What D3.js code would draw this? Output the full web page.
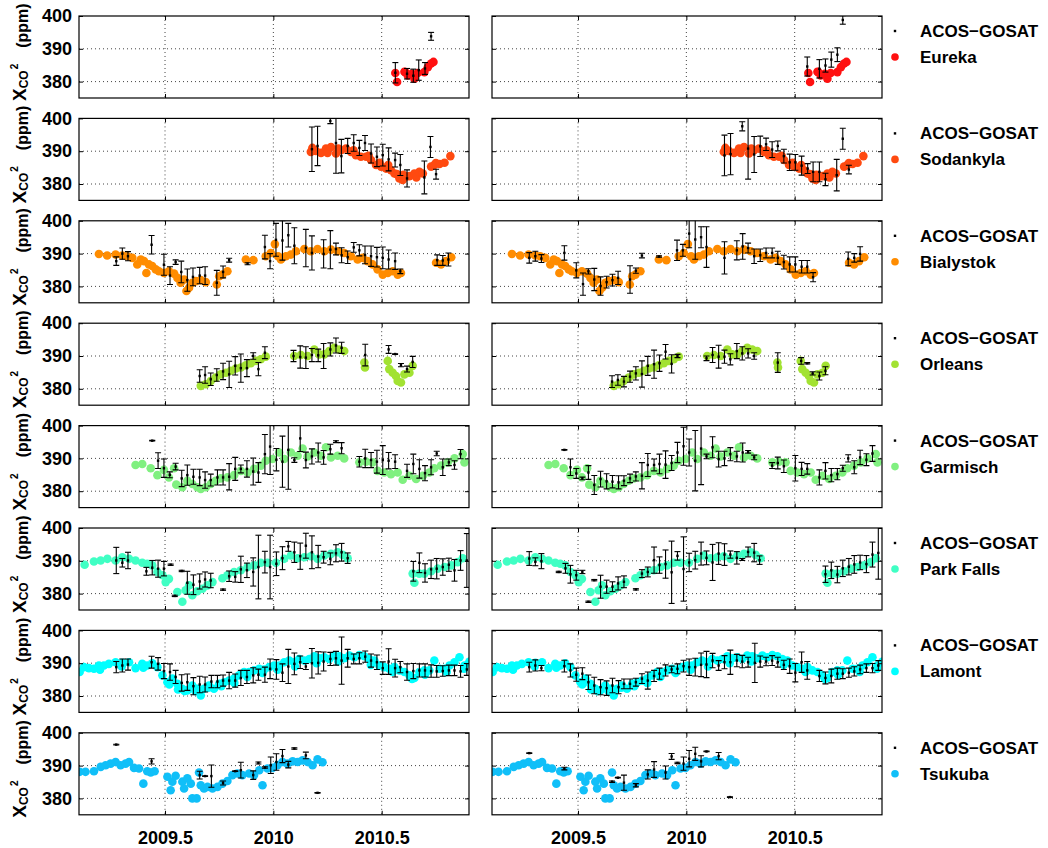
<!DOCTYPE html>
<html><head><meta charset="utf-8">
<script src="https://cdn.jsdelivr.net/npm/d3@7"></script>
<style>
body{margin:0;background:#fff}
text{font-family:"Liberation Sans",Arial,Helvetica,sans-serif;font-weight:bold}
</style>
</head><body>
<svg id="c" width="1048" height="848"></svg>
<script>
// ---------- data ----------
const stations = ["Eureka","Sodankyla","Bialystok","Orleans","Garmisch","Park Falls","Lamont","Tsukuba"];
const stationColors = ["#ff1010","#ff4a10","#ff8c00","#a2e232","#80f080","#40ffc4","#00ffff","#10bff8"];
const gosatLabel = "ACOS\u2212GOSAT";
const xTickValues = [2009.5, 2010, 2010.5];
const xTickLabels = ["2009.5","2010","2010.5"];
const yTickValues = [380, 390, 400];
const yGridValues = [380, 390];

// TCCON [decimal year, XCO2]
const tcconEureka = [[2010.563,382.6],[2010.571,379.9],[2010.605,383.0],[2010.609,382.9],[2010.620,381.9],[2010.639,382.4],[2010.651,380.9],[2010.666,382.6],[2010.697,382.9],[2010.713,384.4],[2010.728,385.5],[2010.739,386.0]];
const tcconSodankyla = [[2010.173,389.8],[2010.180,391.0],[2010.196,390.1],[2010.220,389.5],[2010.243,390.8],[2010.250,389.5],[2010.266,391.3],[2010.289,389.3],[2010.300,390.8],[2010.312,390.3],[2010.335,390.8],[2010.358,389.8],[2010.370,390.3],[2010.381,388.8],[2010.404,388.3],[2010.428,388.3],[2010.440,388.6],[2010.451,387.3],[2010.474,385.8],[2010.490,386.5],[2010.497,385.3],[2010.520,384.7],[2010.530,385.8],[2010.543,384.2],[2010.559,383.2],[2010.570,383.0],[2010.582,381.7],[2010.597,381.2],[2010.600,382.8],[2010.612,382.2],[2010.628,382.4],[2010.651,383.2],[2010.660,382.0],[2010.674,383.7],[2010.690,383.2],[2010.728,385.3],[2010.743,385.8],[2010.750,386.4],[2010.767,386.1],[2010.790,386.5],[2010.817,388.5]];
const tcconBialystok = [[2009.195,389.9],[2009.233,389.4],[2009.272,389.7],[2009.303,389.4],[2009.326,389.2],[2009.349,388.7],[2009.372,386.7],[2009.388,388.2],[2009.403,387.7],[2009.414,384.1],[2009.426,386.7],[2009.441,386.2],[2009.457,385.2],[2009.472,384.6],[2009.495,384.1],[2009.518,384.6],[2009.542,383.9],[2009.557,382.6],[2009.572,381.1],[2009.588,382.1],[2009.599,378.6],[2009.611,379.6],[2009.626,381.1],[2009.642,381.6],[2009.665,381.9],[2009.688,381.3],[2009.739,380.6],[2009.750,383.1],[2009.765,383.6],[2009.788,384.6],[2009.873,388.2],[2009.908,388.0],[2009.965,389.2],[2009.988,390.2],[2010.007,392.9],[2010.022,389.2],[2010.035,388.2],[2010.058,389.2],[2010.081,389.7],[2010.104,390.7],[2010.143,391.4],[2010.173,390.7],[2010.204,391.4],[2010.235,390.7],[2010.266,391.2],[2010.297,390.7],[2010.327,390.2],[2010.358,389.2],[2010.389,388.2],[2010.412,388.7],[2010.435,387.7],[2010.458,386.7],[2010.481,385.2],[2010.505,383.6],[2010.528,384.1],[2010.551,384.6],[2010.574,383.6],[2010.589,384.1],[2010.751,387.2],[2010.774,386.7],[2010.797,387.7],[2010.821,388.9]];
const tcconOrleans = [[2009.665,380.9],[2009.688,381.4],[2009.711,382.4],[2009.734,383.4],[2009.757,384.4],[2009.781,384.9],[2009.804,385.5],[2009.827,386.2],[2009.850,386.5],[2009.873,387.2],[2009.896,387.8],[2009.919,388.5],[2009.942,389.0],[2009.965,389.8],[2010.096,390.0],[2010.127,390.3],[2010.158,390.0],[2010.189,392.0],[2010.212,390.5],[2010.235,390.5],[2010.258,391.5],[2010.281,392.5],[2010.304,392.0],[2010.327,391.5],[2010.420,388.0],[2010.423,386.5],[2010.528,388.5],[2010.535,386.0],[2010.551,384.9],[2010.566,383.9],[2010.574,382.4],[2010.589,381.9],[2010.605,384.4],[2010.628,384.9],[2010.643,387.0]];
const tcconGarmisch = [[2009.364,388.0],[2009.395,388.3],[2009.434,387.0],[2009.465,384.9],[2009.495,386.5],[2009.518,384.2],[2009.542,387.0],[2009.552,382.0],[2009.580,381.2],[2009.603,383.2],[2009.626,382.2],[2009.649,381.2],[2009.665,380.7],[2009.688,381.2],[2009.711,382.2],[2009.734,383.2],[2009.757,383.9],[2009.788,384.2],[2009.819,384.9],[2009.850,386.2],[2009.881,385.7],[2009.911,386.8],[2009.942,387.8],[2009.965,389.3],[2009.996,389.8],[2010.027,391.8],[2010.050,389.8],[2010.081,391.8],[2010.112,390.8],[2010.135,393.0],[2010.158,390.6],[2010.189,391.8],[2010.220,390.8],[2010.243,393.4],[2010.266,390.3],[2010.297,390.8],[2010.327,390.0],[2010.397,388.8],[2010.428,389.0],[2010.458,388.8],[2010.481,386.2],[2010.512,385.7],[2010.543,385.2],[2010.574,385.7],[2010.597,383.5],[2010.628,384.7],[2010.659,383.7],[2010.690,384.7],[2010.720,385.7],[2010.743,387.0],[2010.774,387.8],[2010.805,388.8],[2010.836,390.0],[2010.874,391.3],[2010.882,388.8]];
const tcconParkFalls = [[2009.129,388.8],[2009.172,389.8],[2009.203,390.1],[2009.234,390.6],[2009.272,390.1],[2009.303,391.1],[2009.334,390.6],[2009.364,390.1],[2009.395,389.4],[2009.418,389.1],[2009.441,388.6],[2009.465,386.6],[2009.488,385.6],[2009.503,383.5],[2009.518,384.5],[2009.557,380.5],[2009.580,377.5],[2009.595,381.0],[2009.611,382.5],[2009.626,379.5],[2009.649,380.7],[2009.673,381.5],[2009.696,382.5],[2009.719,383.5],[2009.765,384.7],[2009.788,385.6],[2009.819,386.6],[2009.850,387.1],[2009.881,388.1],[2009.911,388.6],[2009.942,389.4],[2009.973,389.4],[2010.012,389.4],[2010.050,390.6],[2010.081,391.6],[2010.112,390.8],[2010.143,391.1],[2010.173,391.4],[2010.204,390.6],[2010.235,391.6],[2010.266,392.1],[2010.297,392.6],[2010.320,391.8],[2010.343,390.8],[2010.643,386.1],[2010.651,383.3],[2010.674,386.1],[2010.697,386.1],[2010.728,386.8],[2010.758,387.6],[2010.790,388.1],[2010.821,388.6],[2010.851,389.6],[2010.874,390.8]];
const tcconLamont = [[2009.106,387.3],[2009.126,388.8],[2009.149,388.5],[2009.172,388.3],[2009.195,389.3],[2009.200,388.0],[2009.218,389.3],[2009.241,389.8],[2009.272,390.3],[2009.300,389.0],[2009.303,390.1],[2009.334,390.3],[2009.364,388.5],[2009.395,389.8],[2009.400,388.6],[2009.418,389.3],[2009.441,390.0],[2009.465,388.8],[2009.488,386.3],[2009.511,384.2],[2009.520,383.5],[2009.534,385.3],[2009.557,383.7],[2009.560,382.0],[2009.580,382.2],[2009.590,381.5],[2009.603,381.7],[2009.626,383.2],[2009.640,381.5],[2009.649,382.2],[2009.665,380.2],[2009.680,382.2],[2009.700,382.5],[2009.703,383.2],[2009.726,382.2],[2009.750,383.7],[2009.760,383.0],[2009.773,384.2],[2009.796,384.7],[2009.819,385.3],[2009.820,384.0],[2009.842,386.3],[2009.865,387.3],[2009.880,385.8],[2009.888,387.3],[2009.911,387.8],[2009.935,388.3],[2009.950,387.0],[2009.958,388.1],[2009.981,388.8],[2010.004,389.3],[2010.020,388.0],[2010.027,389.3],[2010.050,390.3],[2010.073,390.8],[2010.096,390.3],[2010.100,389.0],[2010.119,391.3],[2010.143,390.8],[2010.166,391.3],[2010.189,392.1],[2010.200,390.0],[2010.212,391.5],[2010.235,391.8],[2010.258,391.3],[2010.281,392.3],[2010.300,390.5],[2010.304,392.1],[2010.327,391.5],[2010.351,392.3],[2010.374,391.8],[2010.397,392.5],[2010.420,392.1],[2010.443,391.3],[2010.450,389.5],[2010.466,390.8],[2010.489,389.3],[2010.512,388.8],[2010.535,388.3],[2010.550,387.3],[2010.559,388.8],[2010.582,387.8],[2010.605,387.3],[2010.628,386.3],[2010.640,385.2],[2010.651,385.5],[2010.674,387.3],[2010.697,387.8],[2010.700,386.5],[2010.720,387.8],[2010.743,390.8],[2010.767,388.3],[2010.790,388.3],[2010.800,387.3],[2010.813,389.3],[2010.836,390.3],[2010.859,391.8],[2010.880,388.3],[2010.882,389.3],[2010.905,390.5]];
const tcconTsukuba = [[2009.106,388.1],[2009.133,388.1],[2009.172,388.3],[2009.203,389.6],[2009.226,390.1],[2009.249,390.6],[2009.272,391.1],[2009.295,390.1],[2009.318,390.6],[2009.334,391.1],[2009.357,389.3],[2009.380,389.1],[2009.400,384.5],[2009.418,388.3],[2009.434,387.9],[2009.452,388.3],[2009.511,386.6],[2009.526,382.5],[2009.534,385.1],[2009.549,386.9],[2009.580,385.1],[2009.588,383.0],[2009.603,386.1],[2009.619,384.5],[2009.626,380.0],[2009.646,380.0],[2009.657,387.9],[2009.665,384.0],[2009.680,383.0],[2009.696,383.5],[2009.719,383.0],[2009.742,383.5],[2009.765,384.5],[2009.788,385.3],[2009.811,387.1],[2009.834,387.6],[2009.857,387.1],[2009.888,387.6],[2009.911,387.1],[2009.935,388.6],[2009.950,384.0],[2009.973,389.1],[2009.996,389.3],[2010.019,390.1],[2010.042,391.1],[2010.065,390.6],[2010.089,391.3],[2010.112,391.1],[2010.135,391.6],[2010.158,391.1],[2010.181,390.1],[2010.204,391.9],[2010.227,391.0]];

// ACOS-GOSAT [decimal year, XCO2, error] — left column
const gosatEurekaL = [[2010.563,382.7,3.1],[2010.617,382.4,1.6],[2010.646,381.8,2.0],[2010.671,383.5,3.1],[2010.700,384.0,1.8],[2010.728,393.8,1.2]];
const gosatSodankylaL = [[2010.178,390.6,6.8],[2010.204,391.6,6.0],[2010.263,399.2,0.8],[2010.289,392.5,9.2],[2010.314,388.5,5.1],[2010.343,391.6,2.3],[2010.371,392.5,2.5],[2010.397,391.0,2.3],[2010.423,392.5,2.3],[2010.451,389.3,2.9],[2010.478,388.3,3.0],[2010.505,388.8,3.3],[2010.532,387.5,3.5],[2010.562,387.3,2.1],[2010.586,385.8,3.2],[2010.617,381.7,2.6],[2010.697,382.0,5.0],[2010.725,391.3,3.2],[2010.751,383.0,1.5]];
const gosatBialystokL = [[2009.275,387.7,1.3],[2009.303,390.0,1.7],[2009.329,389.2,1.4],[2009.438,392.7,2.8],[2009.495,386.6,3.2],[2009.523,383.3,2.7],[2009.549,387.4,0.7],[2009.575,384.4,3.3],[2009.603,381.9,3.4],[2009.629,382.9,2.7],[2009.660,383.3,2.5],[2009.685,383.3,2.7],[2009.739,381.1,3.8],[2009.768,384.4,1.8],[2009.796,388.0,0.6],[2009.881,386.9,0.3],[2009.961,392.0,3.6],[2009.985,387.7,2.3],[2010.012,394.2,5.0],[2010.042,394.0,6.0],[2010.069,395.6,3.6],[2010.097,392.4,5.5],[2010.150,391.7,5.7],[2010.178,390.2,5.2],[2010.232,389.9,4.3],[2010.263,391.2,5.8],[2010.289,391.4,1.8],[2010.315,389.5,2.3],[2010.343,388.9,1.9],[2010.371,391.9,1.5],[2010.397,391.0,1.7],[2010.423,389.6,2.7],[2010.451,389.2,3.1],[2010.478,388.9,3.0],[2010.505,388.7,3.3],[2010.532,388.2,2.9],[2010.562,387.7,2.5],[2010.586,384.6,0.7],[2010.756,388.0,1.6],[2010.782,387.9,1.5],[2010.808,388.2,2.0]];
const gosatOrleansL = [[2009.660,383.9,1.9],[2009.685,384.2,2.5],[2009.711,382.9,1.9],[2009.739,384.2,1.9],[2009.768,385.3,2.5],[2009.796,384.4,4.0],[2009.824,387.0,2.8],[2009.850,386.3,4.3],[2009.878,386.3,2.6],[2009.907,390.0,1.0],[2009.931,386.0,2.0],[2009.961,391.0,1.8],[2010.093,390.0,1.7],[2010.124,389.7,3.4],[2010.150,389.5,3.3],[2010.178,390.3,2.0],[2010.207,390.2,1.9],[2010.232,390.0,3.8],[2010.263,392.0,2.0],[2010.289,393.2,2.3],[2010.315,392.5,1.7],[2010.424,390.3,3.3],[2010.532,392.0,1.2],[2010.562,390.6,0.1],[2010.589,387.2,0.5],[2010.617,386.0,0.9],[2010.643,388.2,1.7]];
const gosatGarmischL = [[2009.441,395.4,0.1],[2009.468,389.3,2.4],[2009.495,387.0,2.8],[2009.522,385.0,0.9],[2009.549,387.5,1.0],[2009.577,383.9,2.5],[2009.603,384.9,3.1],[2009.631,384.4,2.3],[2009.660,384.2,2.5],[2009.685,383.4,2.5],[2009.711,383.4,1.8],[2009.742,384.2,2.3],[2009.768,384.2,2.3],[2009.796,384.4,4.0],[2009.824,386.8,3.5],[2009.850,386.8,1.2],[2009.878,386.8,2.5],[2009.907,386.0,4.1],[2009.931,385.7,3.0],[2009.961,391.3,6.0],[2009.985,393.6,8.5],[2010.014,389.6,3.4],[2010.042,389.0,7.8],[2010.069,392.6,12.0],[2010.097,389.5,0.7],[2010.124,396.1,4.0],[2010.150,389.5,2.4],[2010.178,390.6,2.3],[2010.207,391.8,2.9],[2010.232,390.3,2.1],[2010.263,392.8,1.5],[2010.289,395.1,0.3],[2010.315,393.1,1.7],[2010.397,389.0,1.6],[2010.424,390.0,2.8],[2010.451,389.5,2.3],[2010.478,389.0,3.5],[2010.505,389.5,4.4],[2010.532,389.3,2.5],[2010.562,389.0,2.1],[2010.617,386.2,2.0],[2010.646,388.3,3.0],[2010.674,386.8,2.8],[2010.700,385.5,2.3],[2010.728,387.3,2.3],[2010.754,391.5,0.7],[2010.782,387.3,2.5],[2010.810,388.8,1.0],[2010.836,388.0,1.3],[2010.864,391.3,1.4]];
const gosatParkFallsL = [[2009.275,390.1,4.0],[2009.303,389.4,1.3],[2009.329,390.1,2.5],[2009.414,386.8,1.2],[2009.441,387.9,2.2],[2009.468,387.6,2.6],[2009.495,387.6,2.2],[2009.526,388.8,0.2],[2009.545,379.3,0.2],[2009.577,386.9,0.2],[2009.603,383.3,3.5],[2009.631,382.7,3.0],[2009.660,383.7,2.3],[2009.685,384.3,2.3],[2009.711,384.0,2.2],[2009.768,381.2,0.2],[2009.796,385.3,1.6],[2009.824,385.1,1.6],[2009.850,387.4,4.0],[2009.878,387.1,2.2],[2009.907,386.6,4.3],[2009.931,388.1,9.7],[2009.961,389.6,3.3],[2009.985,388.1,9.7],[2010.014,389.1,3.6],[2010.042,390.8,3.5],[2010.069,394.4,1.5],[2010.097,392.6,3.1],[2010.124,391.4,4.0],[2010.150,394.6,3.8],[2010.178,392.6,5.0],[2010.207,391.3,3.4],[2010.232,391.1,1.8],[2010.263,390.6,1.8],[2010.289,392.3,2.6],[2010.315,392.6,2.7],[2010.343,390.8,1.6],[2010.646,386.8,3.0],[2010.674,389.4,3.0],[2010.700,386.3,2.8],[2010.728,387.4,2.8],[2010.754,387.6,3.1],[2010.782,388.1,2.5],[2010.810,388.8,2.0],[2010.836,387.1,3.3],[2010.864,390.1,3.0],[2010.893,390.1,8.2]];
const gosatLamontL = [[2009.275,388.8,1.7],[2009.303,389.3,2.0],[2009.329,389.6,1.7],[2009.438,390.3,1.8],[2009.468,389.8,1.9],[2009.495,387.6,2.3],[2009.523,387.3,2.5],[2009.549,385.8,2.0],[2009.577,384.0,2.5],[2009.603,384.2,2.5],[2009.631,383.0,2.6],[2009.660,383.5,2.5],[2009.685,383.5,2.3],[2009.714,384.4,1.9],[2009.742,384.4,1.9],[2009.768,384.7,1.7],[2009.796,384.7,2.5],[2009.824,384.7,2.0],[2009.850,385.5,2.3],[2009.878,385.8,2.0],[2009.907,386.3,2.3],[2009.931,386.5,1.7],[2009.961,386.5,2.3],[2009.985,388.3,3.0],[2010.014,388.1,3.0],[2010.042,387.1,2.7],[2010.069,389.0,5.2],[2010.097,389.8,3.3],[2010.124,390.3,1.9],[2010.150,389.0,0.9],[2010.178,390.0,4.5],[2010.207,390.1,3.4],[2010.232,390.5,2.9],[2010.263,391.3,2.0],[2010.289,391.5,2.1],[2010.315,390.8,7.2],[2010.343,391.5,2.7],[2010.371,391.3,1.5],[2010.397,391.5,1.7],[2010.424,392.0,1.7],[2010.451,390.8,2.0],[2010.478,390.3,2.2],[2010.505,388.5,1.9],[2010.532,390.5,3.9],[2010.562,388.5,2.7],[2010.586,388.8,1.7],[2010.617,387.3,2.5],[2010.646,387.6,2.3],[2010.674,387.8,2.0],[2010.700,387.8,2.0],[2010.728,387.6,1.9],[2010.754,387.5,1.8],[2010.782,387.6,1.6],[2010.810,387.8,1.6],[2010.836,387.8,1.6],[2010.864,387.5,1.8],[2010.893,388.1,1.8]];
const gosatTsukubaL = [[2009.275,396.4,0.1],[2009.438,391.3,0.8],[2009.660,387.1,1.2],[2009.685,386.8,0.1],[2009.714,386.8,3.4],[2009.768,384.7,0.6],[2009.824,388.3,0.1],[2009.850,388.6,2.4],[2009.907,387.1,1.3],[2009.931,390.8,0.3],[2009.961,389.4,0.2],[2009.988,390.1,2.5],[2010.014,391.1,2.5],[2010.042,392.9,2.0],[2010.069,390.3,1.0],[2010.097,395.2,0.2],[2010.150,393.1,1.0],[2010.204,381.7,0.1]];

// ACOS-GOSAT — right column
const gosatEurekaR = [[2010.558,384.6,2.9],[2010.614,383.9,2.8],[2010.642,384.9,2.0],[2010.669,386.7,2.3],[2010.697,388.2,2.1],[2010.722,398.8,1.3]];
const gosatSodankylaR = [[2010.176,388.7,6.2],[2010.204,389.1,6.3],[2010.258,397.6,1.4],[2010.285,390.8,9.3],[2010.313,389.0,5.5],[2010.341,391.5,3.1],[2010.368,392.1,1.9],[2010.396,390.5,2.4],[2010.422,391.6,1.5],[2010.450,388.5,2.1],[2010.477,386.6,2.5],[2010.503,386.6,2.4],[2010.532,385.6,2.9],[2010.560,384.7,1.5],[2010.585,383.7,3.0],[2010.614,383.7,3.0],[2010.642,381.4,1.9],[2010.694,382.7,4.8],[2010.722,393.8,3.2],[2010.750,384.4,1.3]];
const gosatBialystokR = [[2009.275,388.7,1.6],[2009.303,389.2,1.5],[2009.331,388.5,1.2],[2009.437,390.2,2.2],[2009.492,384.9,2.3],[2009.523,380.7,3.4],[2009.548,384.6,0.8],[2009.575,382.1,3.4],[2009.604,380.1,2.8],[2009.632,381.3,1.8],[2009.659,381.9,1.8],[2009.685,382.6,2.0],[2009.740,382.1,4.2],[2009.767,384.8,0.8],[2009.795,389.4,0.7],[2009.874,389.1,0.2],[2009.957,391.0,3.1],[2009.984,391.0,1.8],[2010.013,396.1,4.3],[2010.041,394.3,6.0],[2010.068,395.0,3.2],[2010.093,392.0,6.2],[2010.176,388.7,4.9],[2010.233,391.0,2.9],[2010.260,392.2,3.9],[2010.285,391.7,1.5],[2010.313,389.2,2.2],[2010.341,389.5,1.9],[2010.368,390.2,1.5],[2010.396,390.2,1.5],[2010.422,388.7,2.0],[2010.450,387.4,2.1],[2010.477,386.7,2.3],[2010.503,386.7,2.3],[2010.532,386.0,1.9],[2010.558,386.0,1.9],[2010.585,382.8,1.4],[2010.747,388.4,2.1],[2010.775,388.7,1.3],[2010.802,389.9,2.2]];
const gosatOrleansR = [[2009.657,382.2,1.8],[2009.684,382.7,1.6],[2009.712,382.2,1.6],[2009.740,383.7,1.7],[2009.767,384.7,2.0],[2009.795,384.5,4.0],[2009.822,387.0,2.9],[2009.851,387.5,4.3],[2009.876,387.8,2.5],[2009.904,391.3,2.2],[2009.932,387.6,2.8],[2009.959,390.0,0.5],[2010.093,389.3,0.7],[2010.121,390.3,2.3],[2010.149,389.8,3.5],[2010.176,389.8,2.0],[2010.203,389.0,1.7],[2010.233,391.5,2.3],[2010.258,390.8,2.0],[2010.285,390.8,1.4],[2010.313,390.0,1.0],[2010.422,388.0,3.0],[2010.530,388.5,1.0],[2010.558,387.8,0.2],[2010.583,384.7,0.5],[2010.614,383.9,1.2],[2010.642,385.5,1.2]];
const gosatGarmischR = [[2009.437,392.6,0.1],[2009.465,387.3,2.5],[2009.492,385.4,1.5],[2009.520,383.9,0.4],[2009.548,385.7,2.1],[2009.575,381.9,2.9],[2009.604,383.7,2.4],[2009.632,383.0,2.3],[2009.659,382.9,1.9],[2009.687,382.7,2.0],[2009.712,383.2,1.5],[2009.740,383.9,1.3],[2009.767,384.5,1.4],[2009.795,384.7,4.0],[2009.822,388.0,3.5],[2009.851,388.0,1.8],[2009.876,388.3,3.0],[2009.904,388.1,4.2],[2009.932,388.6,2.3],[2009.959,391.8,3.1],[2009.987,393.7,5.8],[2010.013,391.8,4.1],[2010.041,389.3,9.2],[2010.068,393.0,11.0],[2010.093,390.6,0.7],[2010.121,393.4,3.2],[2010.149,389.8,2.4],[2010.176,390.0,2.2],[2010.203,391.3,2.0],[2010.233,390.6,1.6],[2010.260,391.8,2.9],[2010.285,392.0,0.4],[2010.313,390.3,0.7],[2010.396,387.8,0.9],[2010.422,388.6,1.8],[2010.450,387.6,1.9],[2010.503,387.0,3.9],[2010.532,386.8,2.0],[2010.558,386.8,1.6],[2010.614,384.2,2.3],[2010.642,386.2,2.5],[2010.669,384.9,2.0],[2010.697,385.2,1.7],[2010.722,387.0,0.9],[2010.747,390.0,1.1],[2010.775,387.3,2.0],[2010.802,390.3,2.2],[2010.831,389.6,1.8],[2010.859,391.5,2.4]];
const gosatParkFallsR = [[2009.275,390.7,2.1],[2009.303,389.7,1.2],[2009.331,389.9,2.3],[2009.411,386.6,0.2],[2009.442,387.7,1.5],[2009.465,385.9,2.7],[2009.492,385.6,1.5],[2009.520,386.6,0.5],[2009.548,377.5,0.2],[2009.575,384.1,0.2],[2009.604,382.1,3.5],[2009.632,382.1,2.0],[2009.659,382.1,1.5],[2009.685,383.1,2.0],[2009.712,383.6,1.8],[2009.767,381.3,0.2],[2009.795,386.1,1.2],[2009.822,386.6,1.5],[2009.851,390.2,4.0],[2009.876,388.7,2.5],[2009.904,389.0,4.3],[2009.932,386.5,9.5],[2009.959,391.5,1.3],[2009.987,387.5,9.8],[2010.013,389.5,2.8],[2010.041,390.2,2.7],[2010.068,392.2,3.5],[2010.093,390.9,2.1],[2010.121,389.5,5.5],[2010.149,392.2,3.3],[2010.176,391.9,3.3],[2010.203,391.9,1.1],[2010.233,390.9,1.9],[2010.258,390.4,0.3],[2010.285,392.7,1.5],[2010.313,392.5,2.8],[2010.338,390.2,1.3],[2010.642,385.9,2.5],[2010.669,387.1,2.5],[2010.697,385.8,2.5],[2010.722,387.7,2.5],[2010.750,388.2,2.5],[2010.775,388.9,2.7],[2010.802,389.5,2.2],[2010.831,389.0,2.6],[2010.859,391.9,3.8],[2010.886,392.4,8.0]];
const gosatLamontR = [[2009.275,388.8,1.5],[2009.303,389.3,1.7],[2009.331,388.5,0.8],[2009.437,389.1,1.8],[2009.465,387.8,2.0],[2009.492,386.5,2.0],[2009.520,386.8,1.8],[2009.548,384.2,2.2],[2009.575,383.2,2.5],[2009.604,382.7,2.3],[2009.632,382.4,2.2],[2009.659,383.2,2.2],[2009.687,382.7,2.0],[2009.712,383.7,1.5],[2009.740,383.7,1.5],[2009.767,384.2,1.2],[2009.795,385.3,1.5],[2009.822,384.7,2.6],[2009.851,386.1,1.7],[2009.876,386.8,1.7],[2009.904,387.8,1.7],[2009.932,388.1,1.0],[2009.959,388.3,1.5],[2009.987,389.1,1.8],[2010.013,388.8,2.5],[2010.041,388.8,2.7],[2010.068,389.5,3.6],[2010.093,389.6,4.0],[2010.121,390.8,2.2],[2010.149,389.3,1.5],[2010.176,390.3,2.0],[2010.203,390.3,3.7],[2010.233,390.8,1.9],[2010.258,390.5,1.9],[2010.285,390.3,1.5],[2010.316,390.1,6.0],[2010.341,390.5,1.7],[2010.368,390.5,1.3],[2010.396,390.8,1.5],[2010.422,390.3,1.5],[2010.450,389.5,1.4],[2010.477,389.1,2.2],[2010.503,387.1,2.8],[2010.532,390.3,3.1],[2010.558,387.8,2.7],[2010.614,386.1,1.7],[2010.642,385.5,1.8],[2010.669,386.1,2.1],[2010.697,386.8,1.7],[2010.722,386.8,1.5],[2010.750,387.1,1.4],[2010.775,387.5,1.4],[2010.802,388.1,1.3],[2010.831,388.5,1.3],[2010.859,388.5,1.4],[2010.886,389.3,1.5]];
const gosatTsukubaR = [[2009.275,393.8,0.1],[2009.437,389.1,0.4],[2009.657,385.1,0.2],[2009.684,386.3,0.1],[2009.712,384.8,2.3],[2009.767,384.0,0.5],[2009.822,387.3,1.4],[2009.851,388.8,2.4],[2009.904,387.9,2.0],[2009.932,392.8,0.9],[2009.959,390.8,0.2],[2009.987,390.6,2.0],[2010.013,392.1,2.5],[2010.041,393.6,2.0],[2010.068,391.3,1.7],[2010.093,394.3,0.1],[2010.149,392.9,1.1],[2010.201,380.4,0.1]];

// ---------- layout ----------
const tcconSets = [tcconEureka,tcconSodankyla,tcconBialystok,tcconOrleans,tcconGarmisch,tcconParkFalls,tcconLamont,tcconTsukuba];
const gosatSets = [
  [gosatEurekaL,gosatEurekaR],[gosatSodankylaL,gosatSodankylaR],[gosatBialystokL,gosatBialystokR],
  [gosatOrleansL,gosatOrleansR],[gosatGarmischL,gosatGarmischR],[gosatParkFallsL,gosatParkFallsR],
  [gosatLamontL,gosatLamontR],[gosatTsukubaL,gosatTsukubaR]];

const colX = [79, 492], panelW = 390, panelH = 82, top0 = 16, rowStep = 102.4;
const x = d3.scaleLinear().domain([2009.103, 2010.903]).range([0, panelW]);
const y = d3.scaleLinear().domain([375, 400]).range([panelH, 0]);
const svg = d3.select("#c");
const FS = 18;

stations.forEach((name, i) => {
  const top = top0 + i * rowStep;
  [0, 1].forEach(c => {
    const g = svg.append("g").attr("transform", `translate(${colX[c]},${top})`);
    const id = `clip${i}_${c}`;
    g.append("clipPath").attr("id", id).append("rect").attr("width", panelW).attr("height", panelH);

    // grid
    g.append("g").selectAll("line").data(xTickValues).join("line")
      .attr("x1", d => x(d)).attr("x2", d => x(d)).attr("y1", 0).attr("y2", panelH)
      .attr("stroke", "#444").attr("stroke-width", 1).attr("stroke-dasharray", "1,3");
    g.append("g").selectAll("line").data(yGridValues).join("line")
      .attr("x1", 0).attr("x2", panelW).attr("y1", d => y(d)).attr("y2", d => y(d))
      .attr("stroke", "#444").attr("stroke-width", 1).attr("stroke-dasharray", "1,3");

    const dg = g.append("g").attr("clip-path", `url(#${id})`);
    dg.append("g").selectAll("circle").data(tcconSets[i]).join("circle")
      .attr("cx", d => x(d[0])).attr("cy", d => y(d[1])).attr("r", 4.3)
      .attr("fill", stationColors[i]);

    const eb = dg.append("g").selectAll("g").data(gosatSets[i][c]).join("g")
      .attr("stroke", "#000").attr("stroke-width", 1.1);
    eb.append("line").attr("x1", d => x(d[0])).attr("x2", d => x(d[0]))
      .attr("y1", d => y(d[1] - d[2])).attr("y2", d => y(d[1] + d[2]));
    eb.append("line").attr("x1", d => x(d[0]) - 3).attr("x2", d => x(d[0]) + 3)
      .attr("y1", d => y(d[1] - d[2])).attr("y2", d => y(d[1] - d[2]));
    eb.append("line").attr("x1", d => x(d[0]) - 3).attr("x2", d => x(d[0]) + 3)
      .attr("y1", d => y(d[1] + d[2])).attr("y2", d => y(d[1] + d[2]));
    eb.append("rect").attr("x", d => x(d[0]) - 1.2).attr("y", d => y(d[1]) - 1.2)
      .attr("width", 2.4).attr("height", 2.4).attr("fill", "#000").attr("stroke", "none");

    // frame
    g.append("rect").attr("width", panelW).attr("height", panelH)
      .attr("fill", "none").attr("stroke", "#000").attr("stroke-width", 1.2);

    // axes (inward ticks)
    const styleAxis = sel => { sel.select(".domain").remove();
      sel.selectAll(".tick line").attr("stroke", "#000");
      sel.selectAll("text").attr("font-size", FS).attr("font-weight", "bold").attr("fill", "#000")
        .attr("font-family", '"Liberation Sans",Arial,sans-serif'); };
    const isBottom = i === stations.length - 1;
    g.append("g").attr("transform", `translate(0,${panelH})`)
      .call(d3.axisBottom(x).tickValues(xTickValues).tickSizeInner(-4).tickSizeOuter(0).tickPadding(16)
        .tickFormat((d, k) => isBottom ? xTickLabels[k] : ""))
      .call(styleAxis);
    g.append("g")
      .call(d3.axisTop(x).tickValues(xTickValues).tickSizeInner(-4).tickSizeOuter(0).tickFormat(""))
      .call(styleAxis);
    g.append("g")
      .call(d3.axisLeft(y).tickValues(yTickValues).tickSizeInner(-4).tickSizeOuter(0).tickPadding(7)
        .tickFormat(d => c === 0 ? d3.format("d")(d) : ""))
      .call(styleAxis);
    g.append("g").attr("transform", `translate(${panelW},0)`)
      .call(d3.axisRight(y).tickValues(yTickValues).tickSizeInner(-4).tickSizeOuter(0).tickFormat(""))
      .call(styleAxis);

    if (c === 0) {
      // y label X_CO2 (ppm)
      const t = svg.append("text")
        .attr("transform", `translate(26,${top + panelH + 3}) rotate(-90)`)
        .attr("fill", "#000");
      t.append("tspan").attr("font-size", 19).text("X");
      t.append("tspan").attr("font-size", 12).attr("dy", 2).text("CO");
      t.append("tspan").attr("font-size", 10).attr("dy", -10).attr("dx", 1).text("2");
      t.append("tspan").attr("font-size", 16).attr("dy", 10).attr("dx", 16).text("(ppm)");
    } else {
      // legend
      const lg = svg.append("g");
      lg.append("rect").attr("x", 895 - 1.2).attr("y", top + 15 - 1.2).attr("width", 2.4).attr("height", 2.4).attr("fill", "#000");
      lg.append("text").attr("x", 920).attr("y", top + 15).attr("dy", "0.35em")
        .attr("font-size", 17).attr("fill", "#000").text(gosatLabel);
      lg.append("circle").attr("cx", 895).attr("cy", top + 41).attr("r", 3.8).attr("fill", stationColors[i]);
      lg.append("text").attr("x", 920).attr("y", top + 41).attr("dy", "0.35em")
        .attr("font-size", 17).attr("fill", "#000").text(name);
    }
  });
});
</script>
</body></html>
